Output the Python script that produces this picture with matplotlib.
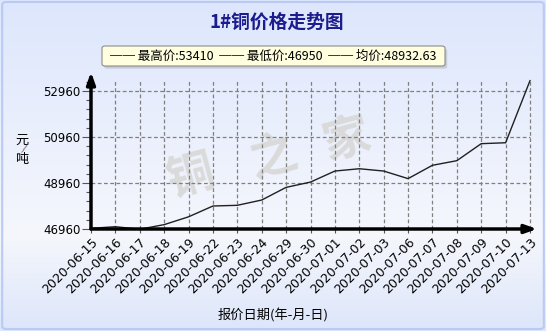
import numpy as np
import matplotlib.pyplot as plt
from matplotlib.patches import FancyBboxPatch

# data
dates = ["2020-06-15", "2020-06-16", "2020-06-17", "2020-06-18", "2020-06-19",
         "2020-06-22", "2020-06-23", "2020-06-24", "2020-06-29", "2020-06-30",
         "2020-07-01", "2020-07-02", "2020-07-03", "2020-07-06", "2020-07-07",
         "2020-07-08", "2020-07-09", "2020-07-10", "2020-07-13"]
prices = [46990, 47060, 46950, 47150, 47490, 47960, 47990, 48220, 48770, 49000,
          49480, 49580, 49480, 49150, 49730, 49930, 50670, 50710, 53410]
y_ticks = [46960, 48960, 50960, 52960]

CJK = ['Noto Sans CJK SC', 'DejaVu Sans']
W, H = 546, 331

fig = plt.figure(figsize=(W / 100, H / 100), dpi=100)

# background gradient
bg = fig.add_axes([0, 0, 1, 1], zorder=-10)
rows = np.arange(H)
top = np.array([221, 230, 252]) / 255
mid = np.array([245, 247, 252]) / 255
bot = np.array([220, 229, 250]) / 255
t1 = np.clip(rows / 235, 0, 1)[:, None]
t2 = np.clip((rows - 235) / (H - 235), 0, 1)[:, None]
grad = np.where(rows[:, None] < 235, top + (mid - top) * t1, mid + (bot - mid) * t2)
bg.imshow(grad[:, None, :], aspect='auto', extent=[0, 1, 0, 1])
bg.add_patch(FancyBboxPatch((0.004, 0.006), 0.992, 0.988,
                            boxstyle="round,pad=0,rounding_size=0.008",
                            transform=bg.transAxes, fill=False,
                            edgecolor='#b9cbf2', lw=1.5))
bg.set_axis_off()

# watermark
for ch, (px, py) in zip("铜之家", [(191, 176), (273, 158), (347, 139)]):
    fig.text(px / W, 1 - py / H, ch, fontsize=34, color='#dadada',
             fontweight='bold', family=CJK, rotation=15,
             ha='center', va='center', zorder=-5)

# plot area
y_max = 46960 + (229 - 72) * 6000 / 138
x_max = 18 * (537 - 91) / (530 - 91)
ax = fig.add_axes([91 / W, 1 - 229 / H, (537 - 91) / W, (229 - 72) / H])
ax.set_facecolor('none')
ax.set_xlim(0, x_max)
ax.set_ylim(46960, y_max)

x = np.arange(len(dates))
ax.vlines(x[1:], 46960, max(prices), colors='#808080',
          linestyles=(0, (3, 2)), lw=0.9)
ax.hlines(y_ticks[1:], 0, x[-1], colors='#808080',
          linestyles=(0, (3, 2)), lw=0.9)
ax.plot(x, prices, color='#202020', lw=1)

for s in ax.spines.values():
    s.set_visible(False)
arrow = dict(arrowstyle='-|>,head_length=0.7,head_width=0.25', lw=2.5,
             color='black', shrinkA=0, shrinkB=0)
ax.annotate('', xy=(0, y_max), xytext=(0, 46960), arrowprops=arrow,
            annotation_clip=False)
ax.annotate('', xy=(x_max, 46960), xytext=(0, 46960), arrowprops=arrow,
            annotation_clip=False)

ax.set_yticks(y_ticks)
ax.set_yticklabels([str(v) for v in y_ticks])
ax.set_yticks(np.arange(46960, 53400, 400), minor=True)
ax.set_xticks(x)
ax.set_xticklabels(dates, rotation=45, ha='right', rotation_mode='anchor')
ax.tick_params(axis='y', which='major', length=6.5, width=0.8,
               color='#555555', labelsize=8.5, pad=1)
ax.tick_params(axis='y', which='minor', length=3.5, width=0.8, color='#555555')
ax.tick_params(axis='x', length=3, width=0.8, color='#555555',
               labelsize=9, pad=2)

# titles and labels
fig.text(277 / W, 1 - 22 / H, "1#铜价格走势图", fontsize=13.5, fontweight='bold',
         color='#1c1c8e', family=CJK, ha='center', va='center')
fig.text(273 / W, 1 - 315 / H, "报价日期(年-月-日)", fontsize=9.5,
         family=CJK, ha='center', va='center')
fig.text(22 / W, 1 - 140 / H, "元", fontsize=9.5, family=CJK,
         ha='center', va='center')
fig.text(24 / W, 1 - 148 / H, "/", fontsize=7, family=CJK, color='#444444',
         ha='center', va='center', rotation=-20)
fig.text(22 / W, 1 - 160 / H, "吨", fontsize=9.5, family=CJK,
         ha='center', va='center')

# legend box
lx0, ly0, lx1, ly1 = 102, 46, 445, 66
fig.patches.append(FancyBboxPatch((lx0 / W + 0.004, 1 - ly1 / H - 0.008),
                                  (lx1 - lx0) / W, (ly1 - ly0) / H,
                                  boxstyle="round,pad=0,rounding_size=0.006",
                                  transform=fig.transFigure, facecolor='#c8ccd6',
                                  edgecolor='none', zorder=1))
fig.patches.append(FancyBboxPatch((lx0 / W, 1 - ly1 / H),
                                  (lx1 - lx0) / W, (ly1 - ly0) / H,
                                  boxstyle="round,pad=0,rounding_size=0.006",
                                  transform=fig.transFigure, facecolor='#ffffe0',
                                  edgecolor='#8c8c8c', lw=0.8, zorder=2))
legend_txt = ("── 最高价:%d  ── 最低价:%d  ── 均价:%.2f"
              % (max(prices), min(prices), np.mean(prices)))
fig.text((lx0 + lx1) / 2 / W, 1 - (ly0 + ly1) / 2 / H, legend_txt,
         fontsize=9, family=CJK, ha='center', va='center', zorder=3)

fig.savefig("out.png", dpi=100)
